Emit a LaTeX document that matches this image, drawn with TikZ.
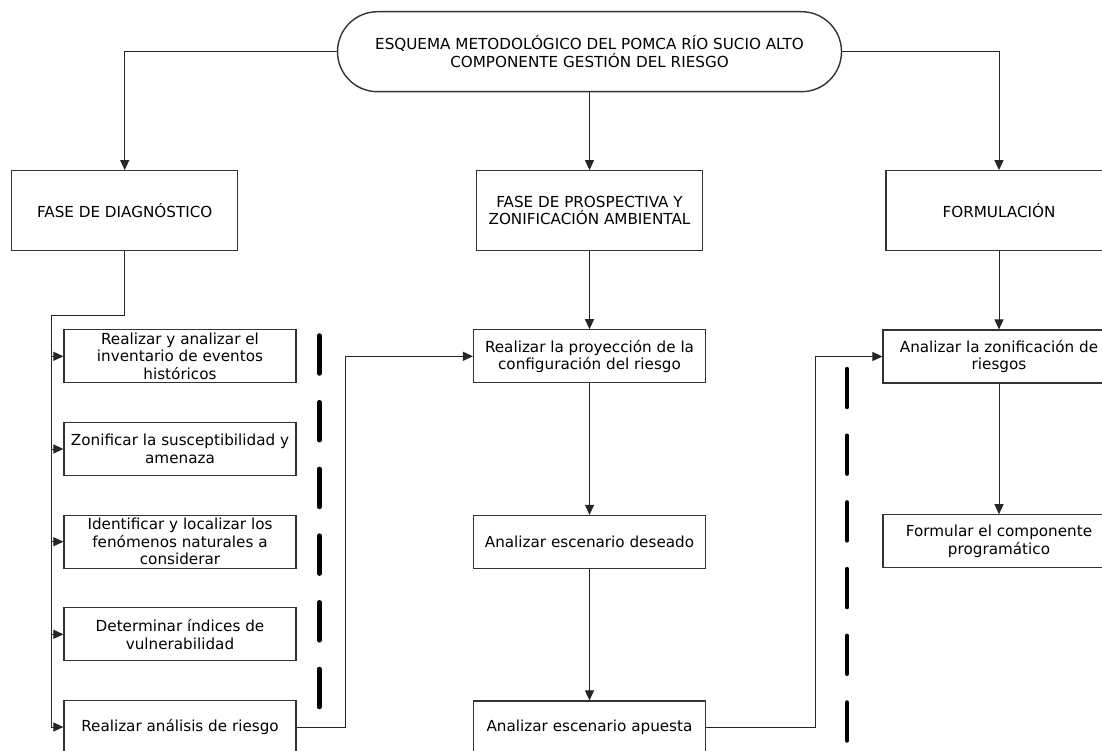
\documentclass[tikz,border=0pt]{standalone}
\usepackage{fontspec}
\setmainfont{DejaVu Sans}
\usetikzlibrary{arrows.meta}

\definecolor{lineGray}{HTML}{333333}

\begin{document}
\begin{tikzpicture}[
    x=1pt, y=-1pt,
    % 定义统一的框样式
    box_style/.style={draw=lineGray, line width=1.2pt, align=center, inner sep=1pt,
        font=\fontsize{15.2}{17.5}\selectfont},
    phase_box/.style={box_style, minimum width=226pt, minimum height=80pt},
    task_box/.style={box_style, minimum width=232pt, minimum height=53pt},
    % 连线与分隔线
    conn/.style={draw=black!85, line width=1pt, -{Triangle[length=10pt,width=9pt]}},
    sep_line/.style={line width=4.5pt, line cap=round, dash pattern=on 38pt off 28.7pt}
]

    % --- 画布 ---
    \fill[white] (0,0) rectangle (1102,751);
    \clip (0,0) rectangle (1102,751);

    % --- 标题 ---
    \node[box_style, rounded corners=40pt, line width=1.4pt,
          minimum width=504pt, minimum height=80pt] (top) at (589.5,51.7)
        {ESQUEMA METODOLÓGICO DEL POMCA RÍO SUCIO ALTO\\COMPONENTE GESTIÓN DEL RIESGO};

    % --- 三个阶段 ---
    \node[phase_box] (diag) at (124.7,210.7) {FASE DE DIAGNÓSTICO};
    \node[phase_box] (pros) at (589.5,210.7) {FASE DE PROSPECTIVA Y\\ZONIFICACIÓN AMBIENTAL};
    \node[phase_box] (form) at (999,210.7) {FORMULACIÓN};

    % --- 诊断阶段的步骤 ---
    \node[task_box] (d1) at (180,356.3) {Realizar y analizar el\\inventario de eventos\\históricos};
    \node[task_box] (d2) at (180,449) {Zonificar la susceptibilidad y\\amenaza};
    \node[task_box] (d3) at (180,541.7) {Identificar y localizar los\\fenómenos naturales a\\considerar};
    \node[task_box] (d4) at (180,634.3) {Determinar índices de\\vulnerabilidad};
    \node[task_box] (d5) at (180,727) {Realizar análisis de riesgo};

    % --- 前景阶段的步骤 ---
    \node[task_box] (p1) at (589.5,356.3) {Realizar la proyección de la\\configuración del riesgo};
    \node[task_box] (p2) at (589.5,542) {Analizar escenario deseado};
    \node[task_box] (p3) at (589.5,727.5) {Analizar escenario apuesta};

    % --- 制定阶段的步骤 ---
    \node[task_box] (f1) at (999,356.5) {Analizar la zonificación de\\riesgos};
    \node[task_box] (f2) at (999,541.3) {Formular el componente\\programático};

    % --- 折线的拐点 ---
    \coordinate (bus) at (51.7,315.7);
    \coordinate (j1) at (345,0);
    \coordinate (j2) at (815.7,0);

    % --- 连线 ---
    \draw[conn] (top.west) -| (diag.north);
    \draw[conn] (top.south) -- (pros.north);
    \draw[conn] (top.east) -| (form.north);

    \draw[conn] (diag.south) |- (bus) |- (d5.west);
    \foreach \n in {d1,d2,d3,d4} {
        \draw[conn] (bus |- \n.west) -- (\n.west);
    }
    \draw[conn] (d5.east) -- (j1 |- d5.east) |- (p1.west);

    \draw[conn] (pros.south) -- (p1.north);
    \draw[conn] (p1.south) -- (p2.north);
    \draw[conn] (p2.south) -- (p3.north);
    \draw[conn] (p3.east) -- (j2 |- p3.east) |- (f1.west);

    \draw[conn] (form.south) -- (f1.north);
    \draw[conn] (f1.south) -- (f2.north);

    % --- 分隔虚线 ---
    \draw[sep_line] (319.3,335.5) -- (319.3,711);
    \draw[sep_line] (847,369) -- (847,741);

\end{tikzpicture}
\end{document}
